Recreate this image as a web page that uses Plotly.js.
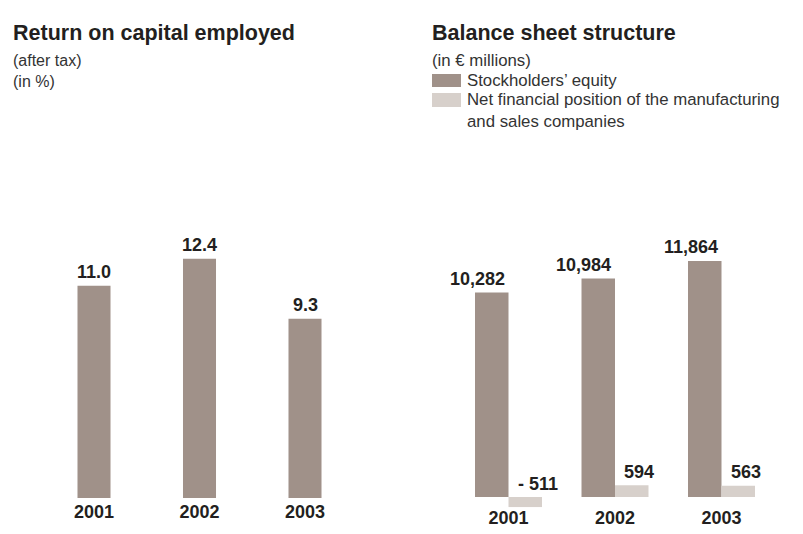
<!DOCTYPE html>
<html>
<head>
<meta charset="utf-8">
<script src="https://cdn.plot.ly/plotly-3.0.1.min.js"></script>
<style>
  html, body { margin: 0; padding: 0; background: #ffffff; }
  #chart { width: 803px; height: 534px; }
</style>
</head>
<body>
<div id="chart"></div>
<script>
// ---- data ----
const years = ['2001', '2002', '2003'];
const roce = [11.0, 12.4, 9.3];
const roceLabels = ['11.0', '12.4', '9.3'];
const equity = [10282, 10984, 11864];
const equityLabels = ['10,282', '10,984', '11,864'];
const netFinancial = [-511, 594, 563];
const netLabels = ['- 511', '594', '563'];
const seriesNames = ["Stockholders’ equity", 'Net financial position of the manufacturing<br>and sales companies'];

// ---- style ----
const W = 803, H = 534;
const FONT = '"Liberation Sans", Arial, Helvetica, sans-serif';
const DARK = '#231f20';
const C_EQ = '#a09189';
const C_NET = '#d7d0cb';
const px = x => x / W;
const py = y => 1 - y / H;

const traces = [
  { type: 'bar', x: years, y: roce, xaxis: 'x', yaxis: 'y', width: 0.313,
    marker: { color: C_EQ, line: { width: 0 } }, showlegend: false, name: 'ROCE' },
  { type: 'bar', x: years, y: equity, xaxis: 'x2', yaxis: 'y2', offsetgroup: 'eq',
    marker: { color: C_EQ, line: { width: 0 } }, showlegend: false, name: seriesNames[0] },
  { type: 'bar', x: years, y: netFinancial, xaxis: 'x2', yaxis: 'y2', offsetgroup: 'net',
    marker: { color: C_NET, line: { width: 0 } }, showlegend: false, name: 'Net financial position' }
];

const valFont = { family: FONT, size: 18, color: DARK, weight: 'bold' };
const annotations = [];
years.forEach((yr, i) => {
  annotations.push({ xref: 'x', yref: 'y', x: i, y: roce[i], text: roceLabels[i], showarrow: false,
    xanchor: 'center', yanchor: 'middle', yshift: 13.5, font: valFont });
  annotations.push({ xref: 'x2', yref: 'y2', x: i, y: equity[i], text: equityLabels[i], showarrow: false,
    xanchor: 'right', yanchor: 'middle', xshift: -2, yshift: 13.5, font: valFont });
  annotations.push({ xref: 'x2', yref: 'y2', x: i, y: Math.max(netFinancial[i], 0), text: netLabels[i], showarrow: false,
    xanchor: 'left', yanchor: 'middle', xshift: 7, yshift: 13.5, font: valFont });
});

const titleFont = { family: FONT, size: 21.5, color: DARK, weight: 'bold' };
const subFont = { family: FONT, size: 16, color: '#333333' };
const legFont = { family: FONT, size: 16.8, color: '#333333' };
function paperText(text, x, y, font, yanchor) {
  return { xref: 'paper', yref: 'paper', x: px(x), y: py(y), text: text, showarrow: false,
    xanchor: 'left', yanchor: yanchor || 'middle', align: 'left', font: font };
}
annotations.push(paperText('Return on capital employed', 11, 33, titleFont));
annotations.push(paperText('(after tax)', 11, 61, subFont));
annotations.push(paperText('(in %)', 11, 81, subFont));
annotations.push(paperText('Balance sheet structure', 430, 33, titleFont));
annotations.push(paperText('(in € millions)', 430, 60, legFont));
annotations.push(paperText(seriesNames[0], 465, 80, legFont));
annotations.push(paperText(seriesNames[1], 465, 110, legFont));

const shapes = [
  { type: 'rect', xref: 'paper', yref: 'paper', x0: px(432), x1: px(461), y0: py(87), y1: py(74),
    fillcolor: C_EQ, line: { width: 0 } },
  { type: 'rect', xref: 'paper', yref: 'paper', x0: px(432), x1: px(461), y0: py(107), y1: py(93),
    fillcolor: C_NET, line: { width: 0 } }
];

const tickFont = { family: FONT, size: 18, color: DARK, weight: 'bold' };
const layout = {
  width: W, height: H,
  margin: { l: 0, r: 0, t: 0, b: 0 },
  paper_bgcolor: '#ffffff', plot_bgcolor: 'rgba(0,0,0,0)',
  barmode: 'group', bargap: 0.371, bargroupgap: 0,
  showlegend: false,
  xaxis: { domain: [px(41.25), px(357.75)], anchor: 'y', type: 'category', range: [-0.5, 2.5],
    showgrid: false, zeroline: false, showline: false, ticks: '', tickfont: tickFont, ticklabelstandoff: 1, fixedrange: true },
  yaxis: { domain: [py(498), py(228)], anchor: 'x', range: [0, 14], visible: false, fixedrange: true },
  xaxis2: { domain: [px(455.25), px(774.75)], anchor: 'y2', type: 'category', range: [-0.5, 2.5],
    showgrid: false, zeroline: false, showline: false, ticks: '', tickfont: tickFont, ticklabelstandoff: -2, fixedrange: true },
  yaxis2: { domain: [py(507.35), py(238.3)], anchor: 'x2', range: [-520, 13000], visible: false, fixedrange: true },
  annotations: annotations,
  shapes: shapes
};

Plotly.newPlot('chart', traces, layout, { staticPlot: true, displayModeBar: false });
</script>
</body>
</html>
